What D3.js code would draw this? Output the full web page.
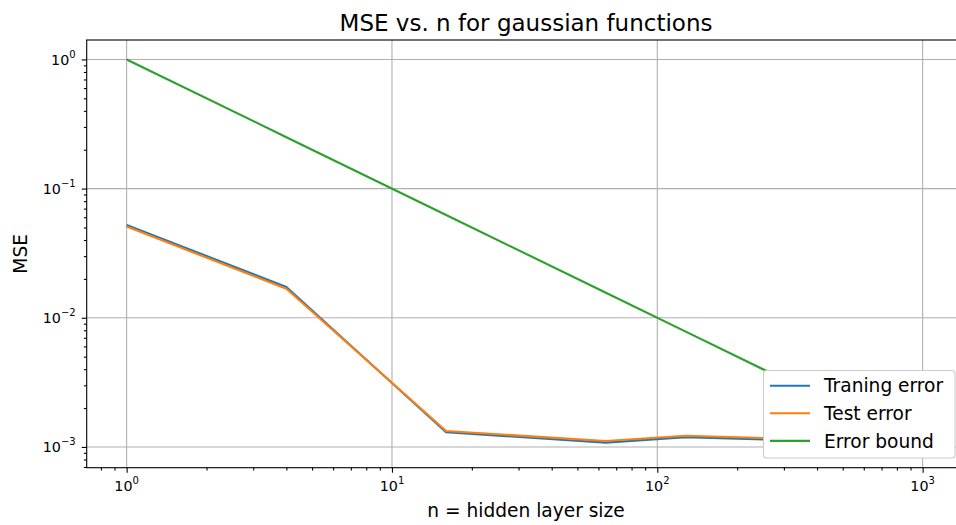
<!DOCTYPE html>
<html>
<head>
<meta charset="utf-8">
<script src="https://cdn.jsdelivr.net/npm/d3@7"></script>
<style>
  body { margin: 0; background: #fff; }
  svg { display: block; font-family: "DejaVu Sans", sans-serif; }
</style>
</head>
<body>
<svg id="chart"></svg>
<script>
const width = 956;
const height = 525;

// hidden layer sizes and measured errors
const sizes = [1, 4, 16, 64, 128, 256, 512, 1024];
const trainError = [0.0523, 0.0173, 0.00130, 0.00108, 0.00119, 0.00114, 0.00113, 0.00112];
const testError = [0.0508, 0.0168, 0.00133, 0.00111, 0.00122, 0.00117, 0.00116, 0.00115];
const errorBound = [1, 0.25, 0.0625, 0.015625, 0.0078125, 0.00390625, 0.001953125, 0.0009765625];

const xMajor = [0, 1, 2, 3];      // exponents of 10
const yMajor = [0, -1, -2, -3];
const seriesNames = ['Traning error', 'Test error', 'Error bound'];
const colors = ['#1f77b4', '#ff7f0e', '#2ca02c'];

const pLeft = 86.7, pRight = 965.3, pTop = 40, pBottom = 467.7;

const svg = d3.select('#chart').attr('width', width).attr('height', height);
svg.append('rect').attr('width', width).attr('height', height).attr('fill', '#fff');

// matplotlib style 5% margins in log space
const lx = d3.extent(sizes, d => Math.log10(d));
const mx = (lx[1] - lx[0]) * 0.05;
const allY = trainError.concat(testError, errorBound);
const ly = d3.extent(allY, d => Math.log10(d));
const my = (ly[1] - ly[0]) * 0.05;

const x = d3.scaleLog().domain([10 ** (lx[0] - mx), 10 ** (lx[1] + mx)]).range([pLeft, pRight]);
const y = d3.scaleLog().domain([10 ** (ly[0] - my), 10 ** (ly[1] + my)]).range([pBottom, pTop]);

const minorOf = (scale) => {
  const [a, b] = scale.domain();
  const out = [];
  for (let e = Math.floor(Math.log10(a)); e <= Math.ceil(Math.log10(b)); e++) {
    for (let k = 2; k < 10; k++) {
      const v = k * 10 ** e;
      if (v >= a && v <= b) out.push(v);
    }
  }
  return out;
};

const plot = svg.append('g');

// grid
plot.append('g').selectAll('line').data(xMajor).enter().append('line')
  .attr('x1', d => x(10 ** d)).attr('x2', d => x(10 ** d))
  .attr('y1', pTop).attr('y2', pBottom)
  .attr('stroke', '#b0b0b0').attr('stroke-width', 1.1);
plot.append('g').selectAll('line').data(yMajor).enter().append('line')
  .attr('y1', d => y(10 ** d)).attr('y2', d => y(10 ** d))
  .attr('x1', pLeft).attr('x2', pRight)
  .attr('stroke', '#b0b0b0').attr('stroke-width', 1.1);

// lines
const series = [trainError, testError, errorBound];
const line = d3.line().x((d, i) => x(sizes[i])).y(d => y(d));
series.forEach((s, i) => {
  plot.append('path').datum(s)
    .attr('fill', 'none')
    .attr('stroke', colors[i])
    .attr('stroke-width', 2.1)
    .attr('stroke-linejoin', 'round')
    .attr('d', line);
});

// axes
const xAxisMinor = d3.axisBottom(x).tickValues(minorOf(x)).tickSize(2.8).tickFormat('');
const xAxisMajor = d3.axisBottom(x).tickValues(xMajor.map(d => 10 ** d)).tickSize(5).tickFormat('');
const yAxisMinor = d3.axisLeft(y).tickValues(minorOf(y)).tickSize(2.8).tickFormat('');
const yAxisMajor = d3.axisLeft(y).tickValues(yMajor.map(d => 10 ** d)).tickSize(5).tickFormat('');

[xAxisMinor, xAxisMajor].forEach(a => {
  svg.append('g').attr('transform', `translate(0,${pBottom})`).call(a)
    .call(g => g.select('.domain').remove())
    .selectAll('line').attr('stroke-width', 1.1);
});
[yAxisMinor, yAxisMajor].forEach(a => {
  svg.append('g').attr('transform', `translate(${pLeft},0)`).call(a)
    .call(g => g.select('.domain').remove())
    .selectAll('line').attr('stroke-width', 1.1);
});

// spines
svg.append('rect')
  .attr('x', pLeft).attr('y', pTop)
  .attr('width', pRight - pLeft).attr('height', pBottom - pTop)
  .attr('fill', 'none').attr('stroke', '#000').attr('stroke-width', 1.1);

// tick labels with superscripts
const tickFont = 14.3;
function powerLabel(sel, e) {
  sel.append('tspan').text('10');
  sel.append('tspan').attr('font-size', tickFont * 0.7).attr('dy', -6.7)
    .text(e < 0 ? '\u2212' + (-e) : String(e));
}
xMajor.forEach(e => {
  const t = svg.append('text')
    .attr('x', x(10 ** e)).attr('y', pBottom + 23.3)
    .attr('text-anchor', 'middle').attr('font-size', tickFont).attr('fill', '#000');
  powerLabel(t, e);
});
yMajor.forEach(e => {
  const t = svg.append('text')
    .attr('x', pLeft - 11).attr('y', y(10 ** e) + 5.2)
    .attr('text-anchor', 'end').attr('font-size', tickFont).attr('fill', '#000');
  powerLabel(t, e);
});

// title and axis labels
const cx = (pLeft + pRight) / 2;
svg.append('text').attr('x', cx).attr('y', 30.7)
  .attr('text-anchor', 'middle').attr('font-size', 23)
  .text('MSE vs. n for gaussian functions');
svg.append('text').attr('x', cx).attr('y', 517.3)
  .attr('text-anchor', 'middle').attr('font-size', 18.6)
  .text('n = hidden layer size');
svg.append('text')
  .attr('transform', `translate(26.5,${(pTop + pBottom) / 2}) rotate(-90)`)
  .attr('text-anchor', 'middle').attr('font-size', 18.6)
  .text('MSE');

// legend
const legend = svg.append('g');
legend.append('rect')
  .attr('x', 763.5).attr('y', 370.5).attr('width', 191.5).attr('height', 87.5)
  .attr('rx', 3).attr('fill', '#fff').attr('stroke', '#cccccc').attr('stroke-width', 1.1);
seriesNames.forEach((name, i) => {
  const ry = 385.7 + i * 27.6;
  legend.append('line').attr('x1', 770).attr('x2', 810).attr('y1', ry).attr('y2', ry)
    .attr('stroke', colors[i]).attr('stroke-width', 2.1);
  legend.append('text').attr('x', 824).attr('y', ry + 6.7)
    .attr('font-size', 18.6).text(name);
});
</script>
</body>
</html>
